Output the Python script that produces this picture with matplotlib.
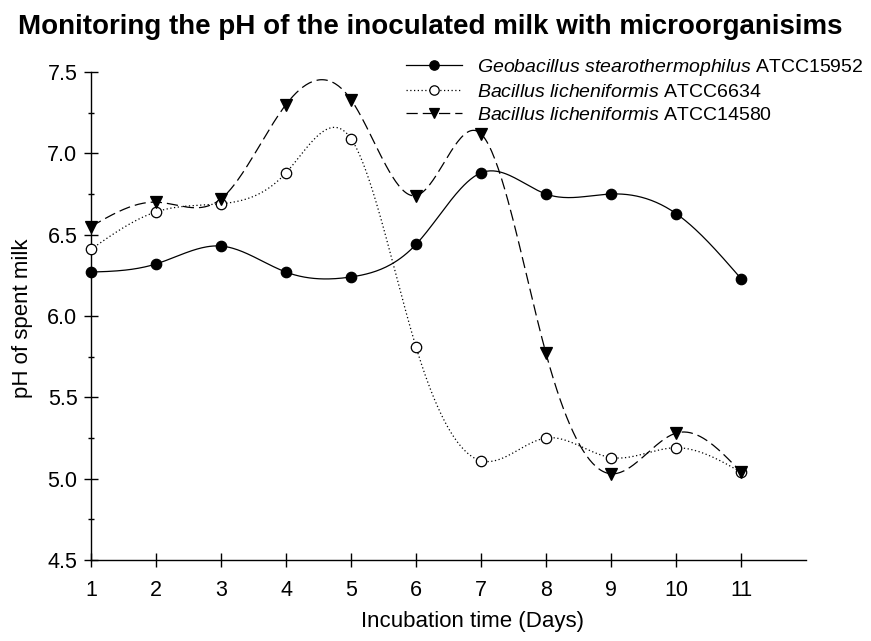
import numpy as np
import matplotlib
matplotlib.use("Agg")
import matplotlib.pyplot as plt
from matplotlib.lines import Line2D

plt.rcParams['font.family'] = ['Liberation Sans', 'DejaVu Sans']
plt.rcParams['mathtext.fontset'] = 'custom'
plt.rcParams['mathtext.it'] = 'Liberation Sans:italic'
plt.rcParams['mathtext.rm'] = 'Liberation Sans'

days = [1, 2, 3, 4, 5, 6, 7, 8, 9, 10, 11]
geo = [6.27, 6.32, 6.43, 6.27, 6.24, 6.44, 6.88, 6.75, 6.75, 6.63, 6.23]
bl6634 = [6.41, 6.64, 6.69, 6.88, 7.09, 5.81, 5.11, 5.25, 5.13, 5.19, 5.04]
bl14580 = [6.55, 6.70, 6.72, 7.30, 7.33, 6.74, 7.12, 5.77, 5.03, 5.28, 5.04]

labels = [("Geobacillus stearothermophilus", "ATCC15952"),
          ("Bacillus licheniformis", "ATCC6634"),
          ("Bacillus licheniformis", "ATCC14580")]


def natural_spline(x, y, n=400):
    x = np.asarray(x, float)
    y = np.asarray(y, float)
    m = len(x)
    h = np.diff(x)
    A = np.zeros((m, m))
    b = np.zeros(m)
    A[0, 0] = 1
    A[-1, -1] = 1
    for i in range(1, m - 1):
        A[i, i - 1] = h[i - 1]
        A[i, i] = 2 * (h[i - 1] + h[i])
        A[i, i + 1] = h[i]
        b[i] = 6 * ((y[i + 1] - y[i]) / h[i] - (y[i] - y[i - 1]) / h[i - 1])
    M = np.linalg.solve(A, b)
    xs = np.linspace(x[0], x[-1], n)
    idx = np.clip(np.searchsorted(x, xs) - 1, 0, m - 2)
    x0, x1 = x[idx], x[idx + 1]
    hh = x1 - x0
    t0 = x1 - xs
    t1 = xs - x0
    ys = (M[idx] * t0 ** 3 / (6 * hh) + M[idx + 1] * t1 ** 3 / (6 * hh)
          + (y[idx] / hh - M[idx] * hh / 6) * t0
          + (y[idx + 1] / hh - M[idx + 1] * hh / 6) * t1)
    return xs, ys


fig = plt.figure(figsize=(8.71, 6.41), dpi=100)
ax = fig.add_axes([91 / 871, 1 - 560 / 641, (806 - 91) / 871, (560 - 72) / 641])

styles = [
    dict(ls='-', marker='o', mfc='black', mec='black', ms=7.5),
    dict(ls=(0, (1, 2)), marker='o', mfc='white', mec='black', ms=7.5),
    dict(ls=(0, (9, 4)), marker='v', mfc='black', mec='black', ms=8.5),
]
handles = []
for data, st in zip([geo, bl6634, bl14580], styles):
    xs, ys = natural_spline(days, data)
    ax.plot(xs, ys, color='black', lw=0.9, ls=st['ls'], zorder=2)
    ax.plot(days, data, ls='none', marker=st['marker'], mfc=st['mfc'],
            mec=st['mec'], ms=st['ms'], mew=0.9, zorder=3, clip_on=False)
    handles.append(Line2D([], [], color='black', lw=0.9, ls=st['ls'],
                          marker=st['marker'], mfc=st['mfc'], mec=st['mec'],
                          ms=st['ms'] * 0.9, mew=0.9))

ax.set_xlim(1, 12)
ax.set_ylim(4.5, 7.5)
ax.set_xticks(days)
ax.set_xticklabels([str(d) for d in days])
ax.set_yticks([4.5, 5.0, 5.5, 6.0, 6.5, 7.0, 7.5])
ax.set_yticks(np.arange(4.75, 7.5, 0.5), minor=True)
ax.set_yticklabels(["4.5", "5.0", "5.5", "6.0", "6.5", "7.0", "7.5"])
for s in ['top', 'right']:
    ax.spines[s].set_visible(False)
for s in ['left', 'bottom']:
    ax.spines[s].set_linewidth(1.0)
ax.tick_params(axis='both', which='major', direction='inout', length=9.5,
               width=1.0, labelsize=15.5)
ax.tick_params(axis='y', which='major', pad=5)
ax.tick_params(axis='y', which='minor', direction='inout', length=5, width=1.0)
ax.tick_params(axis='x', which='major', pad=10)

ax.set_xlabel("Incubation time (Days)", fontsize=16)
ax.xaxis.label.set_verticalalignment('center')
ax.xaxis.set_label_coords((472 - 91) / 715, -(621 - 560) / 488)
ax.set_ylabel("pH of spent milk", fontsize=16)
ax.yaxis.label.set_verticalalignment('center')
ax.yaxis.set_label_coords(-(91 - 23) / 715, (560 - 318) / 488)

fig.text(18 / 871, 1 - 27 / 641, "Monitoring the pH of the inoculated milk with microorganisims",
         fontsize=20, fontweight='bold', ha='left', va='center')

leg_labels = [r"$\it{" + a.replace(" ", r"\ ") + "}$ " + b for a, b in labels]
leg = ax.legend(handles, leg_labels, loc='upper left', frameon=False,
                bbox_to_anchor=(406 / 871, 1 - 57 / 641), bbox_transform=fig.transFigure,
                fontsize=14, handlelength=2.9, handletextpad=0.75, labelspacing=0.28,
                borderaxespad=0, borderpad=0)

fig.savefig("out.png", dpi=100)
